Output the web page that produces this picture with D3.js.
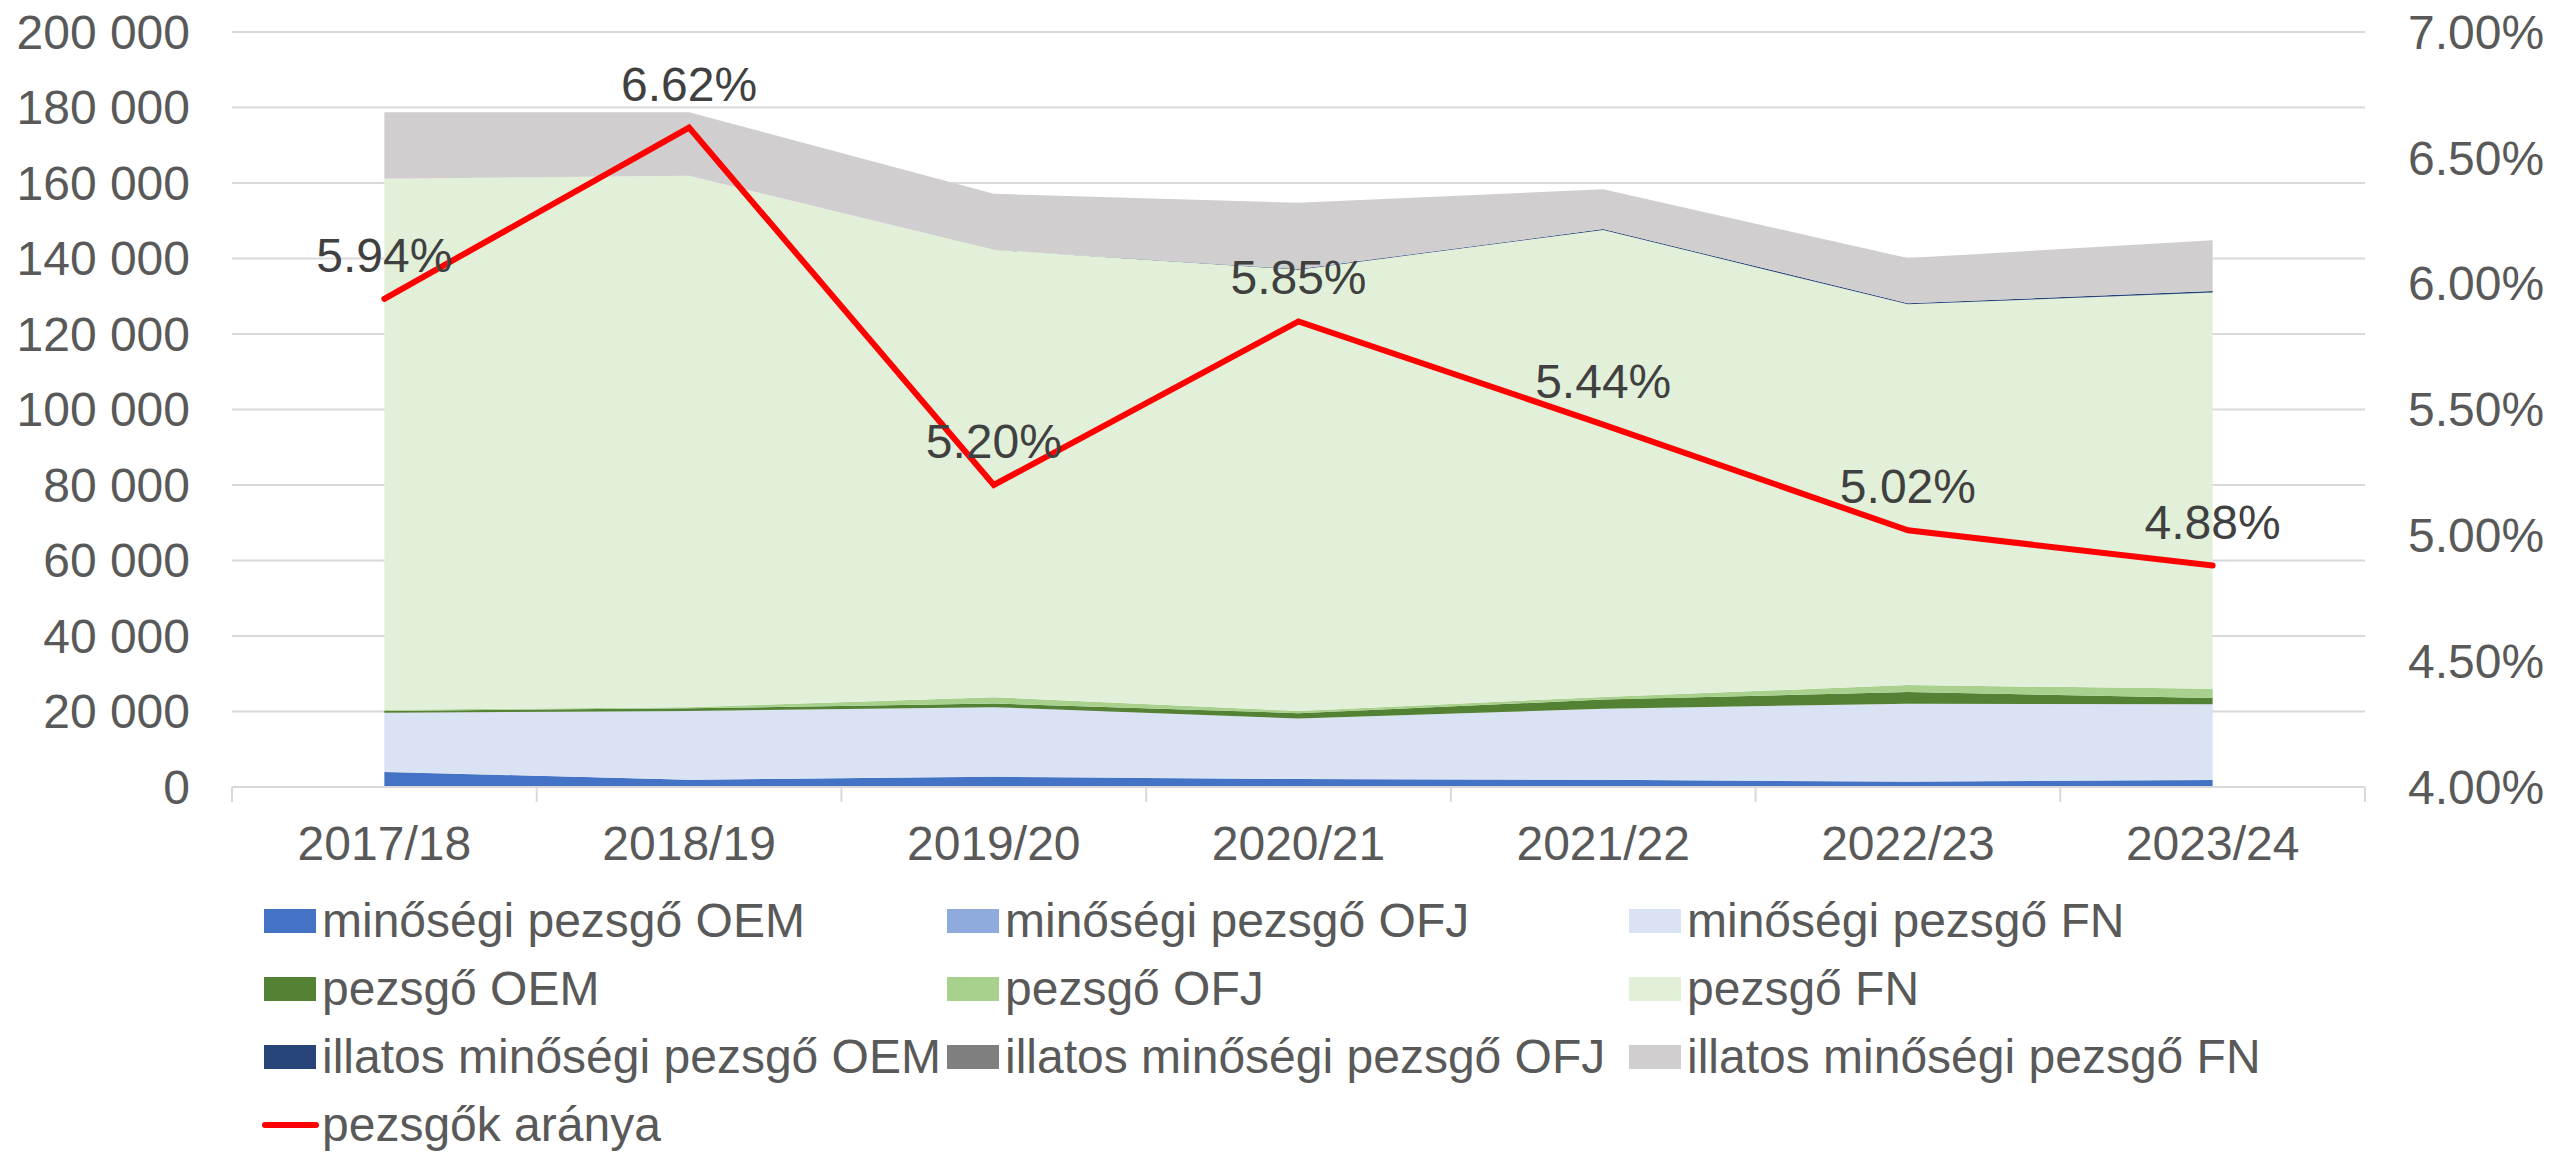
<!DOCTYPE html>
<html lang="hu">
<head>
    <meta charset="UTF-8">
    <title>Pezsgők</title>
    <script src="https://d3js.org/d3.v7.min.js"></script>
    <style>
        body {margin: 0; background: #fff;}
        text {
            font-family: "Liberation Sans", Arial, sans-serif;
            font-size: 48px;
        }
    </style>
</head>
<body>
<script>
    const width = 2552;
    const height = 1153;

    // data
    const years = ["2017/18", "2018/19", "2019/20", "2020/21", "2021/22", "2022/23", "2023/24"];

    const keys = [
        "minőségi pezsgő OEM", "minőségi pezsgő OFJ", "minőségi pezsgő FN",
        "pezsgő OEM", "pezsgő OFJ", "pezsgő FN",
        "illatos minőségi pezsgő OEM", "illatos minőségi pezsgő OFJ", "illatos minőségi pezsgő FN"
    ];
    const colors = ["#4472C4", "#8FAADC", "#DAE3F3", "#548235", "#A9D18E", "#E2F0D9", "#264478", "#7F7F7F", "#D0CECE"];

    const minosegiOEM   = [4000, 1900, 2700, 2100, 1900, 1400, 1850];
    const minosegiOFJ   = [50, 50, 50, 50, 50, 50, 50];
    const minosegiFN    = [15600, 18200, 18400, 16000, 18800, 20600, 20050];
    const pezsgoOEM     = [500, 700, 950, 1400, 2400, 3100, 1600];
    const pezsgoOFJ     = [300, 300, 1700, 600, 700, 1850, 2450];
    const pezsgoFN      = [140700, 140800, 118500, 116900, 123700, 100850, 105000];
    const illatosOEM    = [0, 0, 0, 150, 250, 300, 400];
    const illatosOFJ    = [0, 0, 0, 0, 0, 0, 0];
    const illatosFN     = [17600, 16800, 14850, 17550, 10550, 11950, 13450];

    const arany = [5.94, 6.62, 5.20, 5.85, 5.44, 5.02, 4.88];
    const lineName = "pezsgők aránya";

    const leftTicks  = [0, 20000, 40000, 60000, 80000, 100000, 120000, 140000, 160000, 180000, 200000];
    const rightTicks = [4.0, 4.5, 5.0, 5.5, 6.0, 6.5, 7.0];

    const series = [minosegiOEM, minosegiOFJ, minosegiFN, pezsgoOEM, pezsgoOFJ, pezsgoFN, illatosOEM, illatosOFJ, illatosFN];
    const table = years.map((y, i) => {
        const row = {year: y};
        keys.forEach((k, j) => row[k] = series[j][i]);
        return row;
    });

    const plot = {left: 232, right: 2365, top: 32, bottom: 787};

    const svg = d3.select("body").append("svg")
            .attr("width", width).attr("height", height);

    const x = d3.scaleBand().domain(years).range([plot.left, plot.right]);
    const cx = d => x(d) + x.bandwidth() / 2;
    const y = d3.scaleLinear().domain([0, 200000]).range([plot.bottom, plot.top]);
    const yR = d3.scaleLinear().domain([4, 7]).range([plot.bottom, plot.top]);

    const hu = d3.formatLocale({decimal: ".", thousands: " ", grouping: [3], currency: ["", ""]});
    const fmt = hu.format(",.0f");

    // gridlines
    svg.append("g").selectAll("line")
            .data(leftTicks.slice(1))
            .join("line")
            .attr("x1", plot.left).attr("x2", plot.right)
            .attr("y1", d => y(d)).attr("y2", d => y(d))
            .style("stroke", "#d9d9d9")
            .style("stroke-width", 2);

    // stacked areas
    const stack = d3.stack().keys(keys)(table);
    const area = d3.area()
            .x(d => cx(d.data.year))
            .y0(d => y(d[0]))
            .y1(d => y(d[1]));

    svg.append("g").selectAll("path")
            .data(stack)
            .join("path")
            .attr("d", area)
            .style("fill", (d, i) => colors[i]);

    // x axis
    const xAxis = svg.append("g");
    xAxis.append("line")
            .attr("x1", plot.left).attr("x2", plot.right)
            .attr("y1", plot.bottom).attr("y2", plot.bottom)
            .style("stroke", "#d9d9d9").style("stroke-width", 2);
    xAxis.selectAll("line.tick")
            .data(years.map(d => x(d)).concat([plot.right]))
            .join("line").attr("class", "tick")
            .attr("x1", d => d).attr("x2", d => d)
            .attr("y1", plot.bottom).attr("y2", plot.bottom + 15)
            .style("stroke", "#d9d9d9").style("stroke-width", 2);
    xAxis.selectAll("text")
            .data(years)
            .join("text")
            .attr("x", cx)
            .attr("y", 860)
            .attr("text-anchor", "middle")
            .style("fill", "#595959")
            .text(d => d);

    // left labels
    svg.append("g").selectAll("text")
            .data(leftTicks)
            .join("text")
            .attr("x", 190)
            .attr("y", d => y(d))
            .attr("dy", "0.35em")
            .attr("text-anchor", "end")
            .style("fill", "#595959")
            .text(d => fmt(d));

    // right labels
    svg.append("g").selectAll("text")
            .data(rightTicks)
            .join("text")
            .attr("x", 2408)
            .attr("y", d => yR(d))
            .attr("dy", "0.35em")
            .style("fill", "#595959")
            .text(d => d.toFixed(2) + "%");

    // line
    const line = d3.line()
            .x((d, i) => cx(years[i]))
            .y(d => yR(d));

    svg.append("path")
            .datum(arany)
            .attr("d", line)
            .style("fill", "none")
            .style("stroke", "#FF0000")
            .style("stroke-width", 6)
            .style("stroke-linejoin", "miter")
            .style("stroke-linecap", "round");

    svg.append("g").selectAll("text")
            .data(arany)
            .join("text")
            .attr("x", (d, i) => cx(years[i]))
            .attr("y", d => yR(d) - 27)
            .attr("text-anchor", "middle")
            .style("fill", "#404040")
            .text(d => d.toFixed(2) + "%");

    // legend
    const legendCols = [264, 947, 1629];
    const legendTop = 909;
    const rowStep = 68;
    const legend = svg.append("g");

    const items = keys.map((k, i) => ({name: k, color: colors[i], type: "area"}))
            .concat([{name: lineName, color: "#FF0000", type: "line"}]);

    const item = legend.selectAll("g")
            .data(items)
            .join("g")
            .attr("transform", (d, i) => `translate(${legendCols[i % 3]},${legendTop + Math.floor(i / 3) * rowStep})`);

    item.filter(d => d.type === "area").append("rect")
            .attr("width", 52).attr("height", 24)
            .style("fill", d => d.color);

    item.filter(d => d.type === "line").append("line")
            .attr("x1", 1).attr("x2", 52)
            .attr("y1", 12).attr("y2", 12)
            .style("stroke", d => d.color)
            .style("stroke-width", 6)
            .style("stroke-linecap", "round");

    item.append("text")
            .attr("x", 58)
            .attr("y", 28)
            .style("fill", "#595959")
            .text(d => d.name);
</script>
</body>
</html>
